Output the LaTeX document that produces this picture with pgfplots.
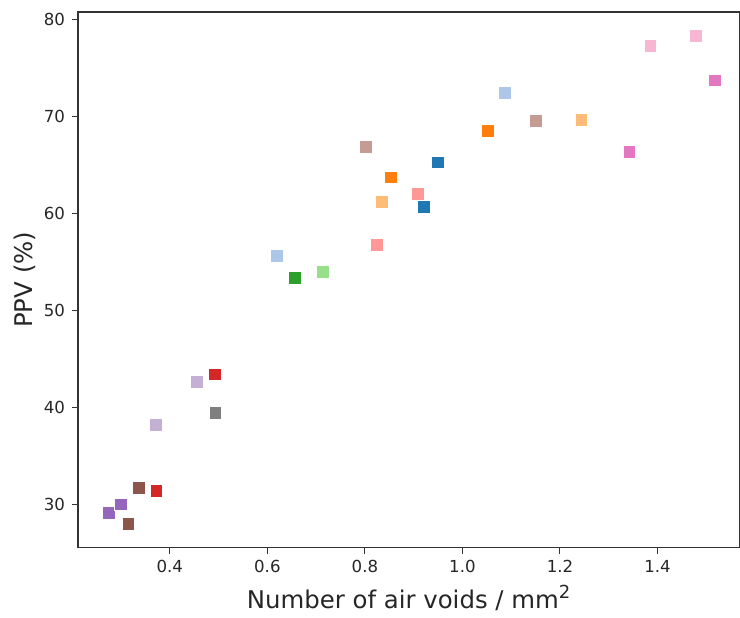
\documentclass[border=0pt]{standalone}
\usepackage{fontspec}
\setmainfont{DejaVu Sans}
\usepackage{pgfplots}
\pgfplotsset{compat=1.18}
\definecolor{tabblue}{HTML}{1F77B4}
\definecolor{tablblue}{HTML}{AEC7E8}
\definecolor{taborange}{HTML}{FF7F0E}
\definecolor{tablorange}{HTML}{FFBB78}
\definecolor{tabgreen}{HTML}{2CA02C}
\definecolor{tablgreen}{HTML}{98DF8A}
\definecolor{tabred}{HTML}{D62728}
\definecolor{tablred}{HTML}{FF9896}
\definecolor{tabpurple}{HTML}{9467BD}
\definecolor{tablpurple}{HTML}{C5B0D5}
\definecolor{tabbrown}{HTML}{8C564B}
\definecolor{tablbrown}{HTML}{C49C94}
\definecolor{tabpink}{HTML}{E377C2}
\definecolor{tablpink}{HTML}{F7B6D2}
\definecolor{tabgray}{HTML}{7F7F7F}
\begin{document}
\begin{tikzpicture}
\begin{axis}[
  name=ax,
  scale only axis,
  width=331pt, height=268pt,
  xmin=0.2115, xmax=1.568,
  ymin=25.53, ymax=80.75,
  xtick={0.4,0.6,0.8,1.0,1.2,1.4},
  ytick={30,40,50,60,70,80},
  tick pos=left,
  tick align=outside,
  major tick length=3pt,
  every tick/.style={black!80, line width=0.5pt},
  axis line style={black!80, line width=0.6pt},
  xticklabel style={/pgf/number format/.cd, fixed, fixed zerofill, precision=1},
  /pgf/number format/assume math mode=true,
  ticklabel style={font=\fontsize{8.3}{10}\selectfont, text=black!85},
  xlabel={Number of air voids / mm\raisebox{0.42em}{\fontsize{9}{10}\selectfont 2}},
  ylabel={PPV (\%)},
  every axis x label/.style={at={(axis description cs:0.5,0)}, anchor=base, yshift=-30.5pt, font=\fontsize{12.2}{14}\selectfont, text=black!85},
  every axis y label/.style={at={(axis description cs:0,0.5)}, anchor=base, rotate=90, yshift=22.5pt, font=\fontsize{12.2}{14}\selectfont, text=black!85},
  mymark/.style={only marks, mark=square*, mark size=3.2pt, mark options={draw=white, line width=0.2pt, fill=#1}},
]
\addplot[mymark=tabpurple] coordinates {(0.275,29.13) (0.2996,30.0)};
\addplot[mymark=tabbrown] coordinates {(0.3146,28.0) (0.3365,31.7)};
\addplot[mymark=tabred] coordinates {(0.372,31.4) (0.492,43.4)};
\addplot[mymark=tablpurple] coordinates {(0.3707,38.18) (0.4553,42.6)};
\addplot[mymark=tabgray] coordinates {(0.4928,39.44)};
\addplot[mymark=tablblue] coordinates {(0.619,55.6) (1.086,72.43)};
\addplot[mymark=tabgreen] coordinates {(0.656,53.33)};
\addplot[mymark=tablgreen] coordinates {(0.714,53.98)};
\addplot[mymark=tablbrown] coordinates {(0.8016,66.87) (1.15,69.5)};
\addplot[mymark=tablred] coordinates {(0.824,56.73) (0.909,62.0)};
\addplot[mymark=tablorange] coordinates {(0.835,61.17) (1.2436,69.65)};
\addplot[mymark=taborange] coordinates {(0.8535,63.71) (1.052,68.48)};
\addplot[mymark=tabblue] coordinates {(0.9205,60.68) (0.95,65.26)};
\addplot[mymark=tabpink] coordinates {(1.342,66.35) (1.518,73.71)};
\addplot[mymark=tablpink] coordinates {(1.385,77.28) (1.4785,78.28)};
\end{axis}
\path ([xshift=-39pt,yshift=6pt]ax.north west) rectangle ([yshift=-34.5pt]ax.south east);
\end{tikzpicture}
\end{document}
